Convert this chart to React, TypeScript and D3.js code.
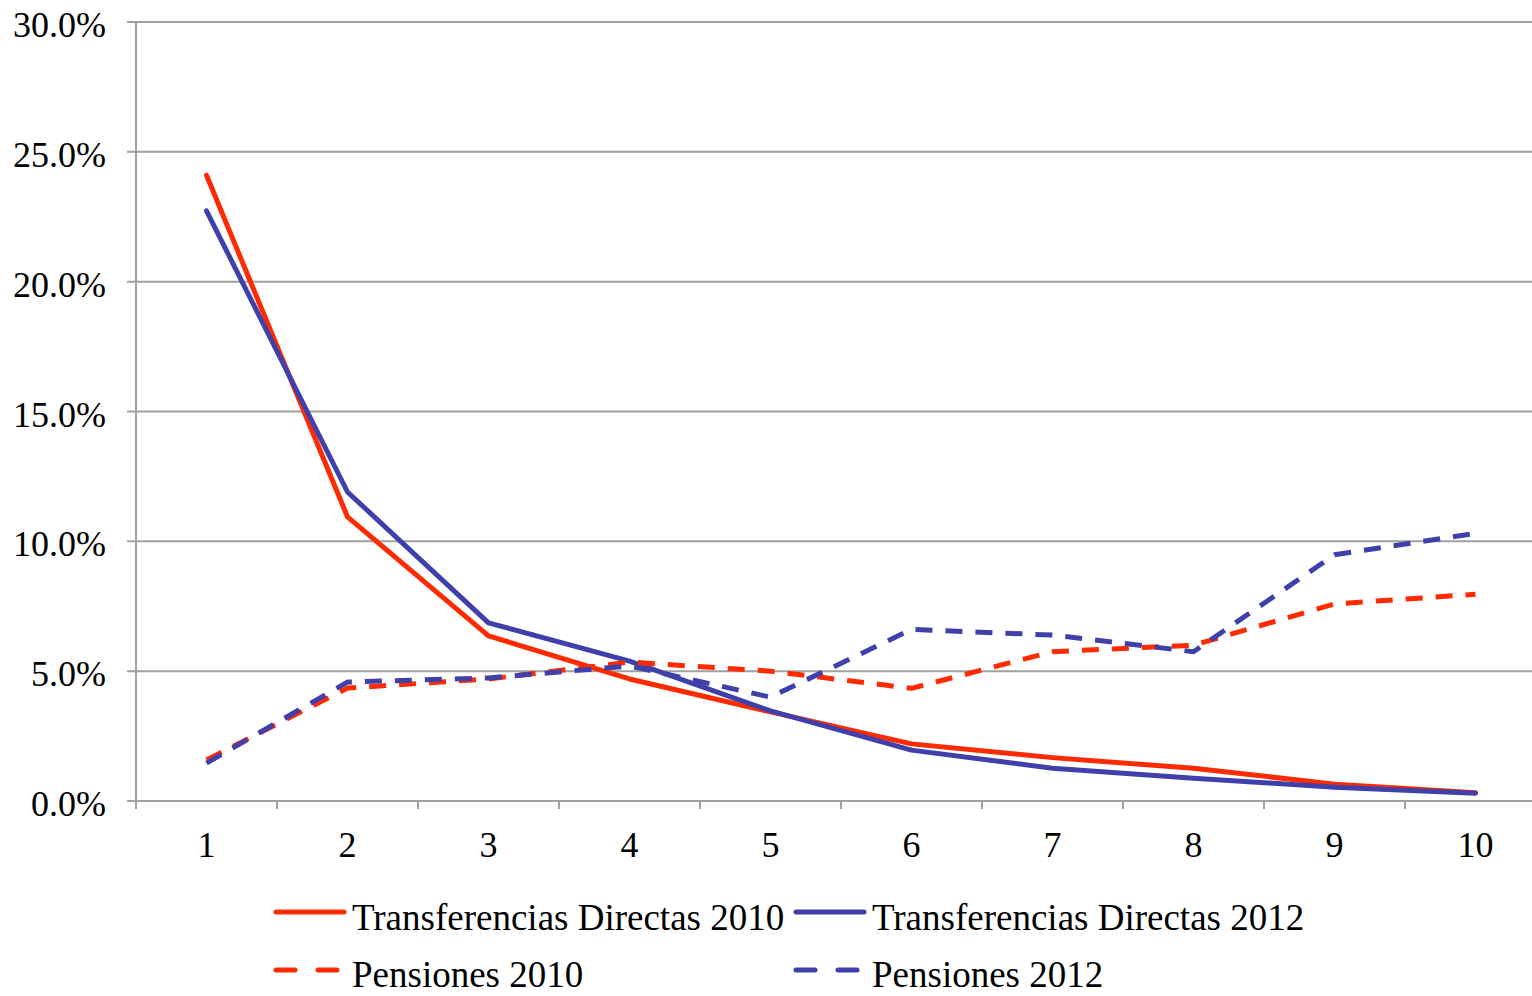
import React from "react";
import * as d3 from "d3";

const categories = ["1", "2", "3", "4", "5", "6", "7", "8", "9", "10"];
const td2010 = [24.1, 10.94, 6.36, 4.7, 3.43, 2.2, 1.67, 1.26, 0.65, 0.32];
const td2012 = [22.73, 11.9, 6.86, 5.39, 3.47, 1.96, 1.26, 0.88, 0.53, 0.3];
const pens2010 = [1.58, 4.35, 4.7, 5.35, 5.0, 4.34, 5.75, 6.0, 7.59, 7.96];
const pens2012 = [1.46, 4.58, 4.74, 5.2, 4.0, 6.61, 6.39, 5.75, 9.48, 10.31];
const yTicks = [0, 5, 10, 15, 20, 25, 30];

const RED = "#FF2A00";
const BLUE = "#4040AA";

const series = [
  { name: "Transferencias Directas 2010", values: td2010, color: RED, dashed: false },
  { name: "Transferencias Directas 2012", values: td2012, color: BLUE, dashed: false },
  { name: "Pensiones 2010", values: pens2010, color: RED, dashed: true },
  { name: "Pensiones 2012", values: pens2012, color: BLUE, dashed: true },
];

const FONT = "Liberation Serif";

export default function App() {
  const W = 1532, H = 996;
  const left = 136, top = 22, bottom = 801, rightBand = 1546;
  const x = d3.scaleBand().domain(categories).range([left, rightBand]);
  const y = d3.scaleLinear().domain([0, 30]).range([bottom, top]);
  const cx = (c: string) => (x(c) as number) + x.bandwidth() / 2;
  const line = d3
    .line<number>()
    .x((_, i) => cx(categories[i]))
    .y((v) => y(v));
  const legendPos = [
    { lx: 276, ly: 912, tx: 352, ty: 930 },
    { lx: 796, ly: 912, tx: 872, ty: 930 },
    { lx: 276, ly: 970, tx: 352, ty: 987 },
    { lx: 796, ly: 970, tx: 872, ty: 987 },
  ];
  const ts = { fontFamily: FONT };
  return (
    <svg
      width={W}
      height={H}
      style={{ position: "absolute", left: 0, top: 0, background: "#fff" }}
    >
      {yTicks.map((t) => (
        <g key={t}>
          <line x1={127} x2={W} y1={y(t)} y2={y(t)} stroke="#A0A0A0" strokeWidth={2} />
          <text x={106} y={y(t) + 15} textAnchor="end" fontSize={36} fill="#000" style={ts}>
            {t.toFixed(1) + "%"}
          </text>
        </g>
      ))}
      <line x1={left} x2={left} y1={top} y2={809} stroke="#A0A0A0" strokeWidth={2} />
      {categories.slice(1).map((c) => (
        <line
          key={c}
          x1={x(c) as number}
          x2={x(c) as number}
          y1={bottom}
          y2={809}
          stroke="#A0A0A0"
          strokeWidth={2}
        />
      ))}
      {categories.map((c) => (
        <text key={c} x={cx(c)} y={857} textAnchor="middle" fontSize={36} fill="#000" style={ts}>
          {c}
        </text>
      ))}
      {series.map((s) => (
        <path
          key={s.name}
          d={line(s.values) || ""}
          fill="none"
          stroke={s.color}
          strokeWidth={5}
          strokeLinejoin="round"
          strokeDasharray={s.dashed ? "17,13" : undefined}
          strokeLinecap={s.dashed ? "butt" : "round"}
        />
      ))}
      {series.map((s, i) => {
        const p = legendPos[i];
        return (
          <g key={s.name}>
            <line
              x1={p.lx}
              x2={p.lx + 68}
              y1={p.ly}
              y2={p.ly}
              stroke={s.color}
              strokeWidth={5}
              strokeLinecap="round"
              strokeDasharray={s.dashed ? "19,23" : undefined}
            />
            <text x={p.tx} y={p.ty} fontSize={37} fill="#000" style={ts}>
              {s.name}
            </text>
          </g>
        );
      })}
    </svg>
  );
}
